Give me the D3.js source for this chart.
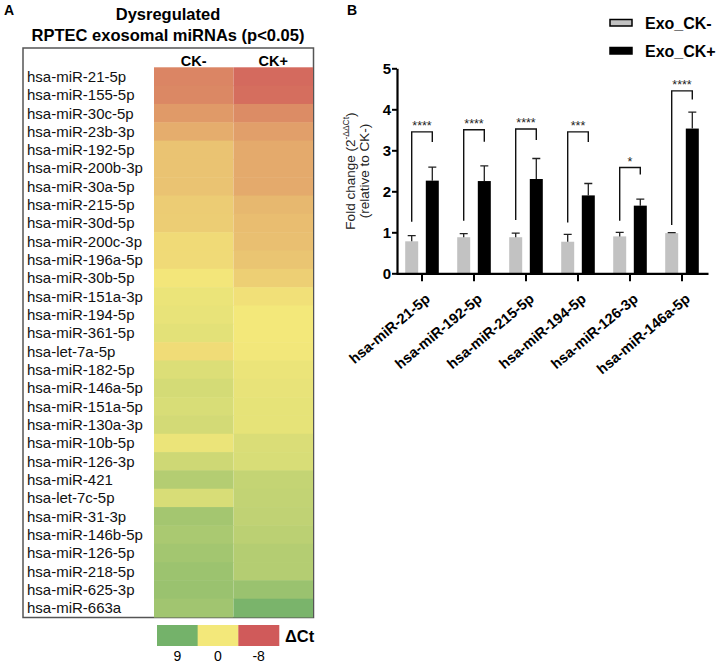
<!DOCTYPE html>
<html>
<head>
<meta charset="utf-8">
<script src="https://cdn.jsdelivr.net/npm/d3@7"></script>
<style>
  html, body { margin: 0; padding: 0; background: #fff; }
  svg { display: block; font-family: Arial, "Liberation Sans", sans-serif; }
</style>
</head>
<body>
<svg id="chart" width="716" height="663"></svg>
<script>
// ---------- Panel A data ----------
const heatRows = ["hsa-miR-21-5p","hsa-miR-155-5p","hsa-miR-30c-5p","hsa-miR-23b-3p","hsa-miR-192-5p",
  "hsa-miR-200b-3p","hsa-miR-30a-5p","hsa-miR-215-5p","hsa-miR-30d-5p","hsa-miR-200c-3p",
  "hsa-miR-196a-5p","hsa-miR-30b-5p","hsa-miR-151a-3p","hsa-miR-194-5p","hsa-miR-361-5p",
  "hsa-let-7a-5p","hsa-miR-182-5p","hsa-miR-146a-5p","hsa-miR-151a-5p","hsa-miR-130a-3p",
  "hsa-miR-10b-5p","hsa-miR-126-3p","hsa-miR-421","hsa-let-7c-5p","hsa-miR-31-3p",
  "hsa-miR-146b-5p","hsa-miR-126-5p","hsa-miR-218-5p","hsa-miR-625-3p","hsa-miR-663a"];
const heatCols = ["CK-", "CK+"];
const ctCKminus = [-5.6,-5.4,-4.4,-3.3,-2.1,-2.1,-2.1,-1.6,-1.5,-0.8,
  -0.8,-0.1,0.6,0.8,1.1,-0.7,1.6,2.2,1.9,2.3,
  0.6,2.6,4.5,1.9,5.6,5.2,5.7,6.2,6.3,5.8];
const ctCKplus = [-7.1,-6.9,-5.2,-4.1,-3.5,-3.5,-3.5,-2.7,-2.4,-2.3,
  -2.0,-1.4,-0.45,0.0,0.0,0.1,0.6,0.8,0.9,0.9,
  1.8,1.9,3.3,3.5,3.6,4.0,4.5,4.5,6.3,8.6];
const legendStops = [9, 0, -8];
const legendColors = ["#74b26a", "#f3e87a", "#d05a5a"];

// ---------- Panel B data ----------
const barGenes = ["hsa-miR-21-5p","hsa-miR-192-5p","hsa-miR-215-5p","hsa-miR-194-5p","hsa-miR-126-3p","hsa-miR-146a-5p"];
const seriesNames = ["Exo_CK-", "Exo_CK+"];
const exoCKminus = [0.78, 0.88, 0.88, 0.77, 0.90, 0.98];
const exoCKminusErr = [0.14, 0.09, 0.10, 0.18, 0.10, 0.01];
const exoCKplus = [2.26, 2.25, 2.30, 1.90, 1.65, 3.53];
const exoCKplusErr = [0.33, 0.37, 0.50, 0.29, 0.16, 0.40];
const sigLabels = ["****","****","****","***","*","****"];
const bracketTop = [3.45, 3.50, 3.52, 3.45, 2.58, 4.45];
const bracketLeftEnd = [1.26, 1.28, 1.30, 1.24, 1.28, 1.18];
const bracketRightEnd = [3.20, 3.21, 3.25, 3.20, 2.41, 4.24];
const yTicks = [0, 1, 2, 3, 4, 5];

const svg = d3.select("#chart");

// ================= Panel A =================
svg.append("text").attr("x", 4).attr("y", 15).attr("font-weight", "bold").attr("font-size", 14).text("A");
svg.append("text").attr("x", 168).attr("y", 20).attr("text-anchor", "middle")
  .attr("font-weight", "bold").attr("font-size", 16.5).text("Dysregulated");
svg.append("text").attr("x", 168).attr("y", 41).attr("text-anchor", "middle")
  .attr("font-weight", "bold").attr("font-size", 16.5).text("RPTEC exosomal miRNAs (p<0.05)");

const boxL = 23, boxR = 313.5, boxT = 48, boxB = 617.5;
svg.append("rect").attr("x", boxL).attr("y", boxT).attr("width", boxR - boxL).attr("height", boxB - boxT)
  .attr("fill", "#fff").attr("stroke", "#555").attr("stroke-width", 1.5);

const hx = d3.scaleBand().domain(heatCols).range([154, 313]);
const hy = d3.scaleBand().domain(heatRows).range([67.3, 617]);
const heatColor = d3.scaleLinear().domain([-8, 0, 9]).range(["#d05a5a", "#f3e87a", "#74b26a"]);

const cells = [];
heatRows.forEach((r, i) => {
  cells.push({row: r, col: "CK-", v: ctCKminus[i]});
  cells.push({row: r, col: "CK+", v: ctCKplus[i]});
});
svg.append("g").selectAll("rect").data(cells).join("rect")
  .attr("x", d => hx(d.col)).attr("y", d => hy(d.row))
  .attr("width", hx.bandwidth()).attr("height", hy.bandwidth() + 0.5)
  .attr("fill", d => heatColor(d.v));

svg.append("g").selectAll("text").data(heatCols).join("text")
  .attr("x", d => hx(d) + hx.bandwidth() / 2).attr("y", 66)
  .attr("text-anchor", "middle").attr("font-weight", "bold").attr("font-size", 14.5).text(d => d);

svg.append("g").selectAll("text").data(heatRows).join("text")
  .attr("x", 27).attr("y", d => hy(d) + hy.bandwidth() / 2)
  .attr("dy", "0.36em").attr("font-size", 15).attr("fill", "#111").text(d => d);

// legend
const lx = d3.scaleBand().domain(legendStops).range([157, 279]);
svg.append("g").selectAll("rect").data(legendStops).join("rect")
  .attr("x", d => lx(d)).attr("y", 625).attr("width", lx.bandwidth() + 0.3).attr("height", 21)
  .attr("fill", (d, i) => legendColors[i]);
svg.append("g").selectAll("text").data(legendStops).join("text")
  .attr("x", d => lx(d) + lx.bandwidth() / 2).attr("y", 661)
  .attr("text-anchor", "middle").attr("font-size", 14).text(d => d);
svg.append("text").attr("x", 285).attr("y", 642).attr("font-weight", "bold").attr("font-size", 16.5).text("ΔCt");

// ================= Panel B =================
svg.append("text").attr("x", 347).attr("y", 15).attr("font-weight", "bold").attr("font-size", 14).text("B");

const x = d3.scaleBand().domain(barGenes).range([396, 708]);
const y = d3.scaleLinear().domain([0, 5]).range([273.3, 68.3]);
const off = 10.3, bw = 13;

const gB = svg.append("g");
const barData = barGenes.map((g, i) => ({g, i}));
gB.selectAll("rect.neg").data(barData).join("rect").attr("class", "neg")
  .attr("x", d => x(d.g) + x.bandwidth() / 2 - off - bw / 2).attr("width", bw)
  .attr("y", d => y(exoCKminus[d.i])).attr("height", d => y(0) - y(exoCKminus[d.i]))
  .attr("fill", "#c2c2c2");
gB.selectAll("rect.pos").data(barData).join("rect").attr("class", "pos")
  .attr("x", d => x(d.g) + x.bandwidth() / 2 + off - bw / 2).attr("width", bw)
  .attr("y", d => y(exoCKplus[d.i])).attr("height", d => y(0) - y(exoCKplus[d.i]))
  .attr("fill", "#000");

function errPath(cx, v, e) {
  const p = d3.path();
  p.moveTo(cx, y(v)); p.lineTo(cx, y(v + e));
  p.moveTo(cx - 4, y(v + e)); p.lineTo(cx + 4, y(v + e));
  return p.toString();
}
gB.selectAll("path.eneg").data(barData).join("path").attr("class", "eneg")
  .attr("d", d => errPath(x(d.g) + x.bandwidth() / 2 - off, exoCKminus[d.i], exoCKminusErr[d.i]))
  .attr("stroke", "#222").attr("stroke-width", 1.3).attr("fill", "none");
gB.selectAll("path.epos").data(barData).join("path").attr("class", "epos")
  .attr("d", d => errPath(x(d.g) + x.bandwidth() / 2 + off, exoCKplus[d.i], exoCKplusErr[d.i]))
  .attr("stroke", "#222").attr("stroke-width", 1.3).attr("fill", "none");

gB.selectAll("path.br").data(barData).join("path").attr("class", "br")
  .attr("d", d => {
    const c = x(d.g) + x.bandwidth() / 2;
    const p = d3.path();
    p.moveTo(c - off, y(bracketLeftEnd[d.i]));
    p.lineTo(c - off, y(bracketTop[d.i]));
    p.lineTo(c + off, y(bracketTop[d.i]));
    p.lineTo(c + off, y(bracketRightEnd[d.i]));
    return p.toString();
  })
  .attr("stroke", "#111").attr("stroke-width", 1.4).attr("fill", "none");
gB.selectAll("text.sig").data(barData).join("text").attr("class", "sig")
  .attr("x", d => x(d.g) + x.bandwidth() / 2).attr("y", d => y(bracketTop[d.i]) - 2)
  .attr("text-anchor", "middle").attr("font-size", 12.5).attr("fill", "#222")
  .text(d => sigLabels[d.i]);

// axes
const yAxis = d3.axisLeft(y).tickValues(yTicks).tickSize(5).tickSizeOuter(0).tickFormat(d3.format("d"));
const gy = svg.append("g").attr("transform", "translate(397,0)").call(yAxis);
gy.select(".domain").attr("stroke", "#000").attr("stroke-width", 2.2);
gy.selectAll(".tick line").attr("stroke", "#000").attr("stroke-width", 2);
gy.selectAll(".tick text").attr("font-size", 15).attr("font-weight", "bold").attr("fill", "#000")
  .attr("font-family", "Arial, 'Liberation Sans', sans-serif").attr("x", -6);

const xAxis = d3.axisBottom(x).tickSize(8).tickSizeOuter(0);
const gx = svg.append("g").attr("transform", "translate(0,273.3)").call(xAxis);
gx.select(".domain").attr("stroke", "#000").attr("stroke-width", 2.2);
gx.selectAll(".tick line").attr("stroke", "#000").attr("stroke-width", 2);
gx.selectAll(".tick text").attr("font-size", 14.5).attr("font-weight", "bold").attr("fill", "#000")
  .attr("font-family", "Arial, 'Liberation Sans', sans-serif")
  .attr("text-anchor", "end").attr("dy", null).attr("y", null)
  .attr("transform", "translate(9,27) rotate(-40)");

// y label
svg.append("text").attr("transform", "translate(355,171) rotate(-90)")
  .attr("text-anchor", "middle").attr("font-size", 13.5).attr("fill", "#222")
  .html('Fold change (2<tspan font-size="8.5" dy="-6">-ΔΔCt</tspan><tspan dy="6">)</tspan>');
svg.append("text").attr("transform", "translate(369,171) rotate(-90)")
  .attr("text-anchor", "middle").attr("font-size", 13.5).attr("fill", "#222")
  .text("(relative to CK-)");

// legend
const lg = svg.append("g");
seriesNames.forEach((s, i) => {
  const yy = 19.5 + i * 28;
  lg.append("rect").attr("x", 610).attr("y", yy).attr("width", 22).attr("height", 6.5)
    .attr("fill", i === 0 ? "#c2c2c2" : "#000").attr("stroke", "#000").attr("stroke-width", 1.5);
  lg.append("text").attr("x", 645).attr("y", yy + 3.5).attr("dy", "0.36em")
    .attr("font-weight", "bold").attr("font-size", 16).text(s);
});
</script>
</body>
</html>
